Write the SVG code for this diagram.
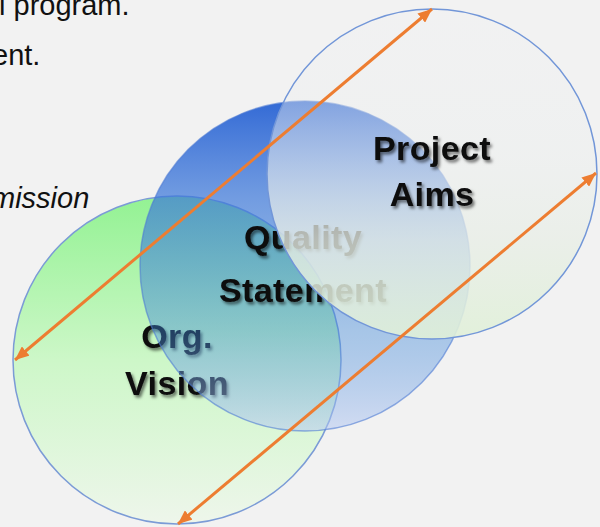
<svg xmlns="http://www.w3.org/2000/svg" width="600" height="527" viewBox="0 0 600 527">
<defs>
<linearGradient id="gGreen" x1="0" y1="0" x2="0" y2="1">
<stop offset="0" stop-color="#93F293"/>
<stop offset="0.5" stop-color="#CDF7C8"/>
<stop offset="1" stop-color="#EEF6EB"/>
</linearGradient>
<linearGradient id="gBlue" x1="0" y1="0" x2="0" y2="1">
<stop offset="0" stop-color="#1E5BD2" stop-opacity="0.9"/>
<stop offset="0.3" stop-color="#3C78DA" stop-opacity="0.7"/>
<stop offset="0.7" stop-color="#3F88D8" stop-opacity="0.42"/>
<stop offset="1" stop-color="#B8CAF2" stop-opacity="0.55"/>
</linearGradient>
<linearGradient id="gAims" x1="0" y1="0" x2="0" y2="1">
<stop offset="0" stop-color="#EEEFF2" stop-opacity="0.22"/>
<stop offset="0.45" stop-color="#ECEFEE" stop-opacity="0.55"/>
<stop offset="0.7" stop-color="#E8EEE6" stop-opacity="0.78"/>
<stop offset="1" stop-color="#E0F0D8" stop-opacity="0.9"/>
</linearGradient>
<filter id="shadow" x="-20%" y="-30%" width="140%" height="160%">
<feDropShadow dx="2" dy="2.5" stdDeviation="1.6" flood-color="#000" flood-opacity="0.55"/>
</filter>
<marker id="arrow" viewBox="0 0 14 12" refX="14" refY="6" markerWidth="14" markerHeight="12" markerUnits="userSpaceOnUse" orient="auto-start-reverse">
<path d="M0,0 L14,6 L0,12 Z" fill="#ED7D31"/>
</marker>
</defs>
<style>
.bg{fill:#F2F2F2}
.slide{font-family:"Liberation Sans",Arial,sans-serif;font-size:29px;fill:#111}
.label{font-family:"Liberation Sans",Arial,sans-serif;font-size:34px;font-weight:bold;fill:#0A0A0A;text-anchor:middle;letter-spacing:0.4px;filter:url(#shadow)}
.conn{stroke:#ED7D31;stroke-width:3;fill:none;marker-start:url(#arrow);marker-end:url(#arrow)}
</style>
<rect class="bg" x="0" y="0" width="600" height="527"/>
<g id="slide-text">
<text class="slide" x="-1" y="15">l program.</text>
<text class="slide" x="-8" y="65">ent.</text>
<text class="slide" x="-9" y="208" font-style="italic">mission</text>
</g>
<g id="org-vision">
<circle cx="177" cy="360" r="164" fill="url(#gGreen)" stroke="#7B9BD6" stroke-width="1.5"/>
<text class="label" x="177" y="348">Org.</text>
<text class="label" x="177" y="395">Vision</text>
</g>
<g id="quality-statement">
<circle cx="305" cy="266" r="165" fill="url(#gBlue)" stroke="#4F7BD4" stroke-opacity="0.6" stroke-width="1.5"/>
<text class="label" x="303" y="249">Quality</text>
<text class="label" x="303" y="302">Statement</text>
</g>
<g id="project-aims">
<circle cx="432" cy="174" r="165" fill="url(#gAims)" stroke="#7296D8" stroke-width="1.5"/>
<text class="label" x="432" y="160">Project</text>
<text class="label" x="432" y="206">Aims</text>
</g>
<g id="connectors">
<line class="conn" x1="15" y1="360" x2="432" y2="9"/>
<line class="conn" x1="178" y1="524" x2="596" y2="173"/>
</g>
</svg>
